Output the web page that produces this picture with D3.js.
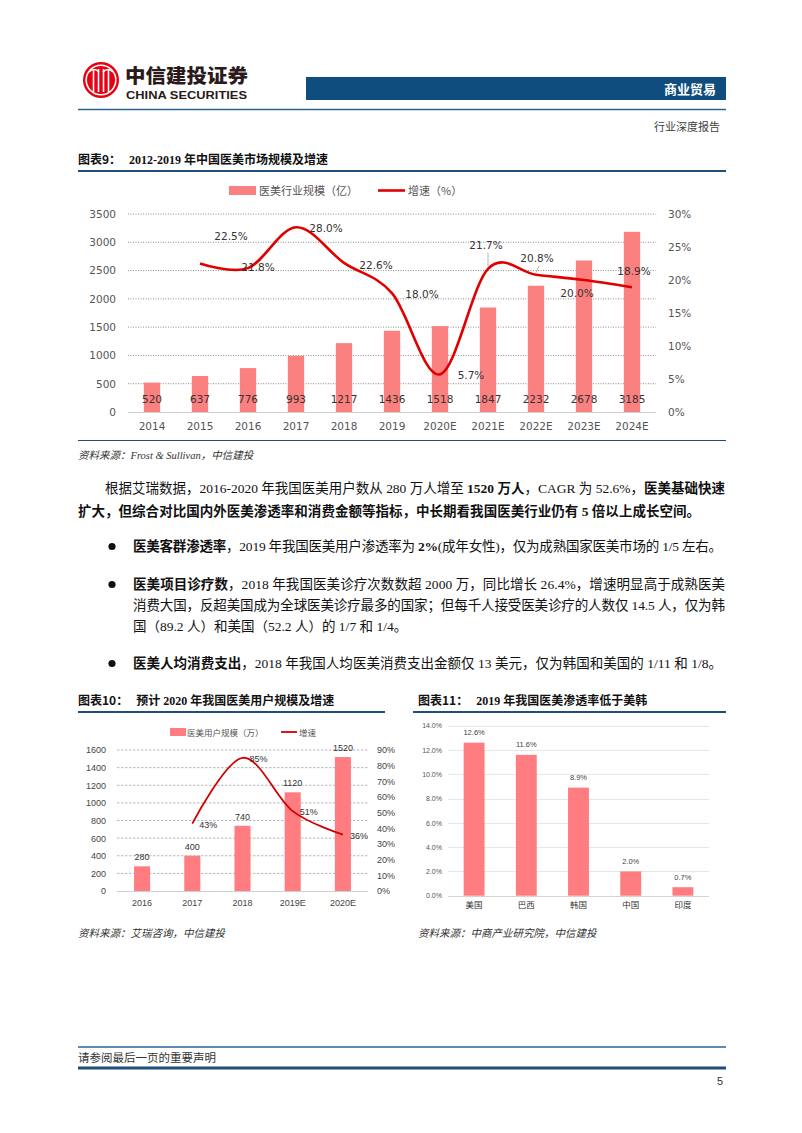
<!DOCTYPE html>
<html><head><meta charset="utf-8">
<script src="https://cdn.jsdelivr.net/npm/d3@7"></script>
<style>body{margin:0;background:#fff}svg{display:block}</style>
</head><body>
<script>
// ---------- DATA ----------
const years1 = ['2014','2015','2016','2017','2018','2019','2020E','2021E','2022E','2023E','2024E'];
const scale1 = [520,637,776,993,1217,1436,1518,1847,2232,2678,3185];
const growthYears1 = ['2015','2016','2017','2018','2019','2020E','2021E','2022E','2023E','2024E'];
const growth1 = [22.5,21.8,28.0,22.6,18.0,5.7,21.7,20.8,20.0,18.9];
const leftTicks1 = [0,500,1000,1500,2000,2500,3000,3500];
const rightTicks1 = [0,5,10,15,20,25,30];

const years2 = ['2016','2017','2018','2019E','2020E'];
const users2 = [280,400,740,1120,1520];
const growthYears2 = ['2017','2018','2019E','2020E'];
const growth2 = [43,85,51,36];
const leftTicks2 = [0,200,400,600,800,1000,1200,1400,1600];
const rightTicks2 = [0,10,20,30,40,50,60,70,80,90];

const countries3 = ['美国','巴西','韩国','中国','印度'];
const rate3 = [12.6,11.6,8.9,2.0,0.7];
const ticks3 = [0,2,4,6,8,10,12,14];

// label offsets (layout only)
const g1LabelOff = [[31,-27],[10,-1],[30,1],[32,2],[30,1],[31,1],[-2,-23],[1,-16],[-7,13],[2,-16]];

// ---------- PAGE ----------
const svg = d3.select('body').append('svg').attr('width',802).attr('height',1133);
const CJK = '"Noto Sans CJK SC", sans-serif';
const SERIF = '"Liberation Serif", "Noto Sans CJK SC", serif';
const BLUE = '#1F4E79';
const fmtInt = d3.format('d');

// header logo
const logo = svg.append('g');
logo.append('circle').attr('cx',101).attr('cy',80).attr('r',18).attr('fill','#E60012');
logo.append('circle').attr('cx',101).attr('cy',80).attr('r',14.8).attr('fill','none').attr('stroke','#fff').attr('stroke-width',1.6);
[-7.5,-2.5,2.5,7.5].forEach(dx=>{
  logo.append('line').attr('x1',101+dx).attr('x2',101+dx).attr('y1',69).attr('y2',92).attr('stroke','#fff').attr('stroke-width',1.6);
});
logo.append('path').attr('d','M89,72 Q94,67 99,72 M103,72 Q108,67 113,72').attr('fill','none').attr('stroke','#fff').attr('stroke-width',1.6);
svg.append('text').attr('x',125).attr('y',83).attr('font-family',CJK).attr('font-weight',900).attr('font-size',19)
  .attr('fill','#2a1a1a').attr('textLength',123).attr('lengthAdjust','spacingAndGlyphs').text('中信建投证券');
svg.append('text').attr('x',126).attr('y',99).attr('font-family','"Liberation Sans", Arial, sans-serif').attr('font-weight','bold').attr('font-size',11.5)
  .attr('fill','#2a1a1a').attr('textLength',121).attr('lengthAdjust','spacingAndGlyphs').text('CHINA SECURITIES');
svg.append('rect').attr('x',306).attr('y',77).attr('width',420).attr('height',23).attr('fill','#0E4D7E');
svg.append('text').attr('x',716).attr('y',93.5).attr('text-anchor','end').attr('font-family',CJK).attr('font-weight','bold')
  .attr('font-size',13).attr('fill','#fff').text('商业贸易');
svg.append('line').attr('x1',78).attr('x2',726).attr('y1',109.5).attr('y2',109.5).attr('stroke','#2A6496').attr('stroke-width',1.5);
svg.append('text').attr('x',720).attr('y',131).attr('text-anchor','end').attr('font-family',SERIF).attr('font-size',11)
  .attr('fill','#404040').text('行业深度报告');

function title(x,y,lead,rest){
  const t = svg.append('text').attr('x',x).attr('y',y).attr('font-size',12).attr('font-weight','bold').attr('fill','#111');
  t.append('tspan').attr('font-family',CJK).text(lead);
  t.append('tspan').attr('font-family',SERIF).attr('dx',8).text(rest);
}
function hline(x1,x2,y,w,c){svg.append('line').attr('x1',x1).attr('x2',x2).attr('y1',y).attr('y2',y).attr('stroke',c||BLUE).attr('stroke-width',w);}
function source(x,y,txt){svg.append('text').attr('x',x).attr('y',y).attr('font-family',SERIF).attr('font-style','italic')
  .attr('font-size',10.5).attr('fill','#333').text(txt);}

// ---------- CHART 1 ----------
title(78,164,'图表9：','2012-2019 年中国医美市场规模及增速');
hline(78,726,171,2);
{
  const AX = '"DejaVu Sans", sans-serif';
  const x = d3.scaleBand().domain(years1).range([128,656]).paddingInner(0.66).paddingOuter(0.33);
  const y = d3.scaleLinear().domain([0,3500]).range([412,214]);
  const yr = d3.scaleLinear().domain([0,30]).range([412,214]);
  const g = svg.append('g');
  g.selectAll('.grid').data(leftTicks1.slice(1)).join('line').attr('x1',128).attr('x2',656)
    .attr('y1',d=>y(d)).attr('y2',d=>y(d)).attr('stroke','#8c8c8c').attr('stroke-width',1).attr('stroke-dasharray','1,1.5');
  g.append('line').attr('x1',128).attr('x2',656).attr('y1',412.5).attr('y2',412.5).attr('stroke','#d0d0d0');
  g.selectAll('.bar').data(scale1).join('rect').attr('x',(d,i)=>x(years1[i])).attr('width',x.bandwidth())
    .attr('y',d=>y(d)).attr('height',d=>412-y(d)).attr('fill','#FB8080');
  g.selectAll('.bl').data(scale1).join('text').attr('x',(d,i)=>x(years1[i])+x.bandwidth()/2).attr('y',403)
    .attr('text-anchor','middle').attr('font-family',AX).attr('font-size',10.5).attr('fill','#333').text(d=>d);
  const la = g.append('g').attr('transform','translate(116,0)').call(d3.axisLeft(y).tickValues(leftTicks1).tickSize(0).tickPadding(0).tickFormat(fmtInt));
  const ra = g.append('g').attr('transform','translate(668,0)').call(d3.axisRight(yr).tickValues(rightTicks1).tickSize(0).tickPadding(0).tickFormat(d=>d+'%'));
  const ba = g.append('g').attr('transform','translate(0,423)').call(d3.axisBottom(x).tickSize(0).tickPadding(0));
  [la,ra,ba].forEach(a=>{a.select('.domain').remove();a.selectAll('text').attr('font-family',AX).attr('font-size',10.5).attr('fill','#555');});
  const px = d=>x(d)+x.bandwidth()/2;
  const line = d3.line().x((d,i)=>px(growthYears1[i])).y(d=>yr(d)).curve(d3.curveCardinal.tension(0));
  [6,7].forEach(i=>{
    const X=px(growthYears1[i]),Y=yr(growth1[i]);
    g.append('line').attr('x1',X+g1LabelOff[i][0]+2).attr('y1',Y+g1LabelOff[i][1]+7).attr('x2',X).attr('y2',Y-2).attr('stroke','#a6a6a6').attr('stroke-width',0.8);
  });
  g.append('path').attr('d',line(growth1)).attr('fill','none').attr('stroke','#E00000').attr('stroke-width',2.6);
  g.selectAll('.gl').data(growth1).join('text').attr('x',(d,i)=>px(growthYears1[i])+g1LabelOff[i][0])
    .attr('y',(d,i)=>yr(d)+g1LabelOff[i][1]).attr('dy','0.35em').attr('text-anchor','middle')
    .attr('font-family',AX).attr('font-size',10.5).attr('fill','#333').text(d=>d.toFixed(1)+'%');
  g.append('rect').attr('x',229).attr('y',186).attr('width',27).attr('height',9).attr('fill','#FB8080');
  g.append('text').attr('x',259).attr('y',195).attr('font-family',CJK).attr('font-size',11).attr('fill','#555').text('医美行业规模（亿）');
  g.append('line').attr('x1',378).attr('x2',405).attr('y1',190.5).attr('y2',190.5).attr('stroke','#E00000').attr('stroke-width',2.6);
  g.append('text').attr('x',408).attr('y',195).attr('font-family',CJK).attr('font-size',11).attr('fill','#555').text('增速（%）');
}
hline(78,726,440.5,1.2);
source(78,459,'资料来源：Frost & Sullivan，中信建投');

// ---------- BODY TEXT ----------
function para(x,y,parts,len){
  const t = svg.append('text').attr('x',x).attr('y',y).attr('font-family',SERIF).attr('font-size',13.5).attr('fill','#111');
  parts.forEach(([s,b])=>t.append('tspan').attr('font-weight',b?'bold':'normal').text(s));
  if(len) t.attr('textLength',len).attr('lengthAdjust','spacing');
}
para(105,493,[['根据艾瑞数据，2016-2020 年我国医美用户数从 280 万人增至 ',0],['1520 万人',1],['，CAGR 为 52.6%，',0],['医美基础快速',1]],620);
para(78,516,[['扩大，但综合对比国内外医美渗透率和消费金额等指标，中长期看我国医美行业仍有 5 倍以上成长空间。',1]],622);
[551,589,668].forEach(yy=>svg.append('circle').attr('cx',112).attr('cy',yy-4.5).attr('r',3.6).attr('fill','#111'));
para(133,551,[['医美客群渗透率',1],['，2019 年我国医美用户渗透率为 ',0],['2%',1],['(成年女性)，仅为成熟国家医美市场的 1/5 左右。',0]],589);
para(133,589,[['医美项目诊疗数',1],['，2018 年我国医美诊疗次数数超 2000 万，同比增长 26.4%，增速明显高于成熟医美',0]],592);
para(133,610,[['消费大国，反超美国成为全球医美诊疗最多的国家；但每千人接受医美诊疗的人数仅 14.5 人，仅为韩',0]],592);
para(133,631,[['国（89.2 人）和美国（52.2 人）的 1/7 和 1/4。',0]]);
para(133,668,[['医美人均消费支出',1],['，2018 年我国人均医美消费支出金额仅 13 美元，仅为韩国和美国的 1/11 和 1/8。',0]],589);

// ---------- CHART 10 ----------
title(78,705,'图表10：','预计 2020 年我国医美用户规模及增速');
hline(78,385,712,2);
{
  const AX = '"Liberation Sans", Arial, sans-serif';
  const x = d3.scaleBand().domain(years2).range([117,368]).paddingInner(0.68).paddingOuter(0.34);
  const y = d3.scaleLinear().domain([0,1600]).range([891,750]);
  const yr = d3.scaleLinear().domain([0,90]).range([891,750]);
  const g = svg.append('g');
  g.selectAll('.grid').data(leftTicks2.slice(1)).join('line').attr('x1',117).attr('x2',368)
    .attr('y1',d=>y(d)).attr('y2',d=>y(d)).attr('stroke','#a6a6a6').attr('stroke-width',0.8).attr('stroke-dasharray','2.5,1.5');
  g.append('line').attr('x1',117).attr('x2',368).attr('y1',891.5).attr('y2',891.5).attr('stroke','#d0d0d0');
  g.selectAll('.bar').data(users2).join('rect').attr('x',(d,i)=>x(years2[i])).attr('width',x.bandwidth())
    .attr('y',d=>y(d)).attr('height',d=>891-y(d)).attr('fill','#FF7C80');
  g.selectAll('.bl').data(users2).join('text').attr('x',(d,i)=>x(years2[i])+x.bandwidth()/2).attr('y',d=>y(d)-9)
    .attr('dy','0.35em').attr('text-anchor','middle').attr('font-family',AX).attr('font-size',9).attr('fill','#333').text(d=>d);
  const la = g.append('g').attr('transform','translate(106,0)').call(d3.axisLeft(y).tickValues(leftTicks2).tickSize(0).tickPadding(0).tickFormat(fmtInt));
  const ra = g.append('g').attr('transform','translate(377,0)').call(d3.axisRight(yr).tickValues(rightTicks2).tickSize(0).tickPadding(0).tickFormat(d=>d+'%'));
  const ba = g.append('g').attr('transform','translate(0,900)').call(d3.axisBottom(x).tickSize(0).tickPadding(0));
  [la,ra,ba].forEach(a=>{a.select('.domain').remove();a.selectAll('text').attr('font-family',AX).attr('font-size',9).attr('fill','#444');});
  const px = d=>x(d)+x.bandwidth()/2;
  const line = d3.line().x((d,i)=>px(growthYears2[i])).y(d=>yr(d)).curve(d3.curveCardinal.tension(0));
  g.append('path').attr('d',line(growth2)).attr('fill','none').attr('stroke','#D00000').attr('stroke-width',1.8);
  g.selectAll('.gl').data(growth2).join('text').attr('x',(d,i)=>px(growthYears2[i])+7).attr('y',d=>yr(d)+1)
    .attr('dy','0.35em').attr('font-family',AX).attr('font-size',9).attr('fill','#333').text(d=>d+'%');
  g.append('rect').attr('x',170).attr('y',728).attr('width',16).attr('height',8).attr('fill','#FF7C80');
  g.append('text').attr('x',187).attr('y',735.5).attr('font-family',CJK).attr('font-size',8.5).attr('fill','#555').text('医美用户规模（万）');
  g.append('line').attr('x1',281).attr('x2',297).attr('y1',732).attr('y2',732).attr('stroke','#D00000').attr('stroke-width',1.8);
  g.append('text').attr('x',299).attr('y',735.5).attr('font-family',CJK).attr('font-size',8.5).attr('fill','#555').text('增速');
}
source(78,937,'资料来源：艾瑞咨询，中信建投');

// ---------- CHART 11 ----------
title(418,705,'图表11：','2019 年我国医美渗透率低于美韩');
hline(413,726,712,2);
{
  const AX = '"Liberation Sans", Arial, sans-serif';
  const x = d3.scaleBand().domain(countries3).range([448,709]).paddingInner(0.6).paddingOuter(0.3);
  const y = d3.scaleLinear().domain([0,14]).range([895.7,725.7]);
  const g = svg.append('g');
  g.selectAll('.grid').data(ticks3).join('line').attr('x1',448).attr('x2',709)
    .attr('y1',d=>Math.round(y(d))+0.5).attr('y2',d=>Math.round(y(d))+0.5).attr('stroke',d=>d===0?'#c8c8c8':'#e0e0e0').attr('stroke-width',0.8);
  g.selectAll('.bar').data(rate3).join('rect').attr('x',(d,i)=>x(countries3[i])).attr('width',x.bandwidth())
    .attr('y',d=>y(d)).attr('height',d=>895.7-y(d)).attr('fill','#FF7C80');
  g.selectAll('.bl').data(rate3).join('text').attr('x',(d,i)=>x(countries3[i])+x.bandwidth()/2).attr('y',d=>y(d)-10)
    .attr('dy','0.35em').attr('text-anchor','middle').attr('font-family',AX).attr('font-size',7.5).attr('fill','#444').text(d=>d.toFixed(1)+'%');
  const la = g.append('g').attr('transform','translate(442,0)').call(d3.axisLeft(y).tickValues(ticks3).tickSize(0).tickPadding(0).tickFormat(d=>d.toFixed(1)+'%'));
  const ba = g.append('g').attr('transform','translate(0,902)').call(d3.axisBottom(x).tickSize(0).tickPadding(0));
  la.select('.domain').remove(); ba.select('.domain').remove();
  la.selectAll('text').attr('font-family',AX).attr('font-size',7).attr('fill','#555');
  ba.selectAll('text').attr('font-family',CJK).attr('font-size',8.5).attr('fill','#333');
}
source(418,937,'资料来源：中商产业研究院，中信建投');

// ---------- FOOTER ----------
hline(78,726,1047,1.5,'#2A6496');
svg.append('text').attr('x',78).attr('y',1062).attr('font-family',SERIF).attr('font-size',11.5).attr('fill','#333').text('请参阅最后一页的重要声明');
hline(78,726,1068,3,'#1F4E79');
svg.append('text').attr('x',723).attr('y',1085).attr('text-anchor','end').attr('font-family','"Liberation Sans", Arial, sans-serif').attr('font-size',11).attr('fill','#333').text('5');
</script>
</body></html>
